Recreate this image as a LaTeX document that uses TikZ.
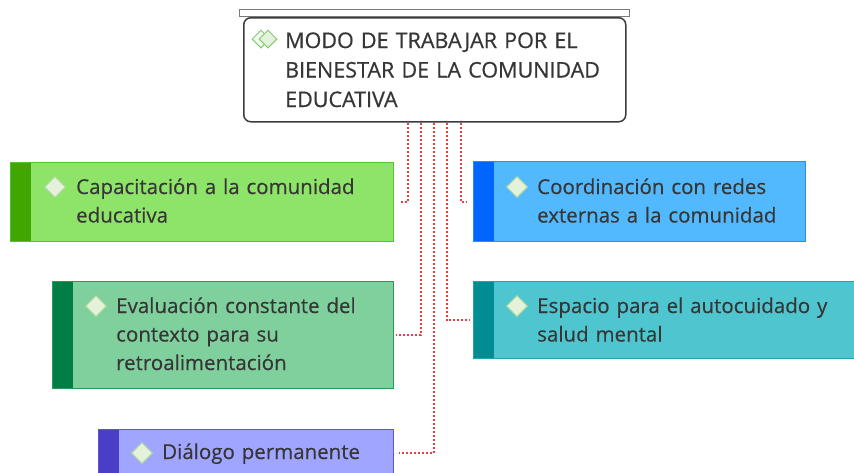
\documentclass[tikz,border=0pt]{standalone}
\usepackage{fontspec}
\setmainfont{Open Sans}
\newfontfamily\topicfont{Open Sans}[FakeBold=0.35]
\newfontfamily\rootfont{Open Sans}[FakeBold=0.6]
\usetikzlibrary{positioning,shapes.geometric,calc}
\definecolor{ink}{HTML}{363636}
\definecolor{linkred}{HTML}{F23A3A}
\definecolor{rootline}{HTML}{3C3C3C}
\definecolor{barline}{HTML}{7A7A7A}
\definecolor{gemfill}{HTML}{E4F2DC}
\definecolor{gemline}{HTML}{B2DB9E}
\definecolor{rootgem}{HTML}{86C975}
\definecolor{capaline}{HTML}{56C22E}
\definecolor{capafill}{HTML}{8EE468}
\definecolor{capabar}{HTML}{40A600}
\definecolor{coordline}{HTML}{2C8CFF}
\definecolor{coordfill}{HTML}{52B9FF}
\definecolor{coordbar}{HTML}{0066FF}
\definecolor{evalline}{HTML}{2A9A5A}
\definecolor{evalfill}{HTML}{80D09E}
\definecolor{evalbar}{HTML}{007E45}
\definecolor{espline}{HTML}{1FA5AD}
\definecolor{espfill}{HTML}{4FC5CF}
\definecolor{espbar}{HTML}{008C93}
\definecolor{dialine}{HTML}{5C55E0}
\definecolor{diafill}{HTML}{A0A5FF}
\definecolor{diabar}{HTML}{4A3DC7}

\begin{document}
\begin{tikzpicture}[x=1pt, y=-1pt,
    topic/.style n args={3}{draw=#1, fill=#2, line width=1.2pt, inner sep=0, anchor=north west,
        path picture={\fill[#3] (path picture bounding box.north west) rectangle ([xshift=20pt]path picture bounding box.south west);}},
    txt/.style={anchor=base west, inner sep=0, text width=380pt, align=left, text=ink, font=\topicfont\fontsize{20.5}{28.5}\selectfont},
    gem/.style={diamond, draw=gemline, fill=gemfill, line width=1pt, minimum width=21pt, minimum height=21pt, inner sep=0},
    link/.style={draw=linkred, line width=2pt, dash pattern=on 2pt off 2pt}
]
    \useasboundingbox (0,0) rectangle (854,472);
    \clip (0,0) rectangle (854,472);

    % Central topic
    \node[draw=rootline, line width=1.5pt, rounded corners=7pt, fill=white, minimum width=382pt, minimum height=104pt, anchor=north west, inner sep=0] (root) at (243,17) {};
    \node[draw=barline, fill=white, line width=1.3pt, minimum width=390pt, minimum height=7pt, anchor=south, inner sep=0] (rootbar) at (root.north) {};
    \node[gem, draw=rootgem, fill=gemfill!80!green!20, minimum width=18pt, minimum height=18pt] (rootgem-a) at ([xshift=18pt, yshift=-22pt]root.north west) {};
    \node[gem, draw=rootgem, fill=gemfill, minimum width=18pt, minimum height=18pt] (rootgem-b) at ([xshift=25pt, yshift=-22pt]root.north west) {};
    \node[txt, font=\rootfont\fontsize{21.5}{29.5}\selectfont] (root-txt) at ([xshift=42pt, yshift=-31pt]root.north west) {MODO DE TRABAJAR POR EL\\BIENESTAR DE LA COMUNIDAD\\EDUCATIVA};

    % Subtopics
    \node[topic={capaline}{capafill}{capabar}, minimum width=383pt, minimum height=79pt] (capa) at (10,162) {};
    \node[gem] (capa-gem) at ([xshift=45pt, yshift=-25pt]capa.north west) {};
    \node[txt] (capa-txt) at ([xshift=66pt, yshift=-32pt]capa.north west) {Capacitación a la comunidad\\educativa};

    \node[topic={coordline}{coordfill}{coordbar}, minimum width=332pt, minimum height=80pt] (coord) at (473,161) {};
    \node[gem] (coord-gem) at ([xshift=44pt, yshift=-26pt]coord.north west) {};
    \node[txt] (coord-txt) at ([xshift=64pt, yshift=-33pt]coord.north west) {Coordinación con redes\\externas a la comunidad};

    \node[topic={evalline}{evalfill}{evalbar}, minimum width=341pt, minimum height=107pt] (eval) at (52,281) {};
    \node[gem] (eval-gem) at ([xshift=44pt, yshift=-25pt]eval.north west) {};
    \node[txt] (eval-txt) at ([xshift=64pt, yshift=-32pt]eval.north west) {Evaluación constante del\\contexto para su\\retroalimentación};

    \node[topic={espline}{espfill}{espbar}, minimum width=395pt, minimum height=77pt] (esp) at (473,281) {};
    \node[gem] (esp-gem) at ([xshift=44pt, yshift=-25pt]esp.north west) {};
    \node[txt] (esp-txt) at ([xshift=64pt, yshift=-32pt]esp.north west) {Espacio para el autocuidado y\\salud mental};

    \node[topic={dialine}{diafill}{diabar}, minimum width=295pt, minimum height=46pt] (dia) at (98,429) {};
    \node[gem] (dia-gem) at ([xshift=44pt, yshift=-24pt]dia.north west) {};
    \node[txt] (dia-txt) at ([xshift=64pt, yshift=-30pt]dia.north west) {Diálogo permanente};

    % Links
    \draw[link, shorten >=7pt] ([xshift=-27pt]root.south) |- (capa.east);
    \draw[link, shorten >=2pt] ([xshift=-14pt]root.south) |- (eval.east);
    \draw[link, shorten >=5pt] ([xshift=-1pt]root.south) |- (dia.east);
    \draw[link, shorten >=3pt] ([xshift=12pt]root.south) |- (esp.west);
    \draw[link, shorten >=7pt] ([xshift=26pt]root.south) |- (coord.west);
\end{tikzpicture}
\end{document}
